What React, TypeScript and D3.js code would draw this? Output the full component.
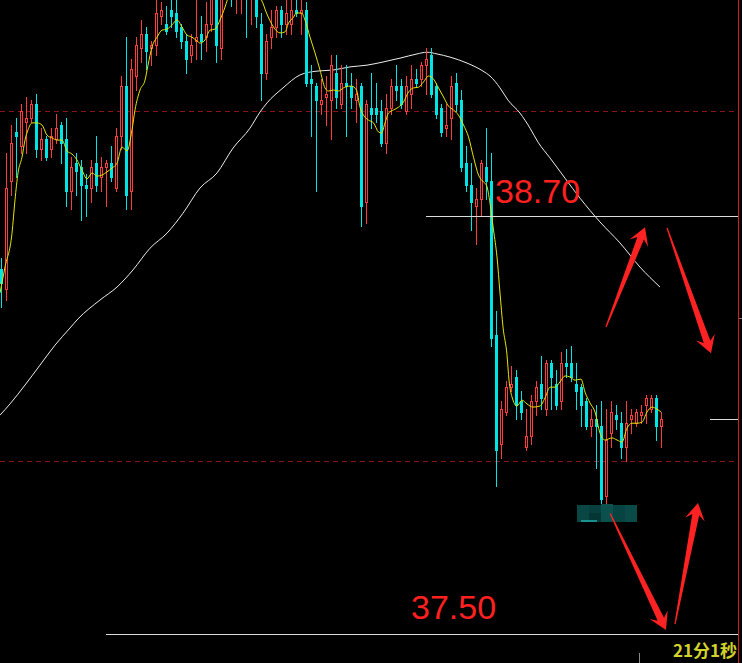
import React from 'react';
import * as d3 from 'd3';

// candle values, one per bar (price units)
const opens = [
  38.55, 38.49, 38.80, 38.94, 38.90, 38.97, 38.98, 39.02, 38.89, 38.92,
  38.89, 38.92, 38.96, 38.92, 38.77, 38.85, 38.84, 38.79, 38.78, 38.85,
  38.81, 38.84, 38.85, 38.78, 38.93, 39.07, 38.77, 39.10, 39.18, 39.22,
  39.18, 39.19, 39.27, 39.25, 39.29, 39.28, 39.24, 39.20, 39.16, 39.20,
  39.22, 39.21, 39.25, 39.34, 39.18, 39.36, 39.41, 39.34, 39.36, 39.41,
  39.33, 39.37, 39.25, 39.11, 39.21, 39.24, 39.29, 39.25, 39.25, 39.29,
  39.28, 39.29, 39.09, 39.07, 39.02, 39.04, 39.03, 39.11, 39.02, 39.08,
  39.07, 39.03, 39.07, 38.74, 39.01, 39.01, 39.00, 38.91, 39.01, 39.07,
  39.07, 39.00, 39.05, 39.09, 39.09, 39.13, 39.16, 39.07, 39.01, 38.95,
  38.98, 39.08, 39.03, 38.85, 38.79, 38.73, 38.75, 38.84, 38.80, 38.36,
  38.05, 38.14, 38.21, 38.24, 38.17, 38.04, 38.07, 38.17, 38.22, 38.15,
  38.28, 38.22, 38.17, 38.28, 38.28, 38.22, 38.21, 38.17, 38.10, 38.12,
  38.10, 37.90, 38.08, 38.13, 38.11, 38.04, 38.12, 38.11, 38.13, 38.16,
  38.15, 38.18, 38.10,
];
const highs = [
  38.58, 38.88, 38.96, 38.98, 39.02, 39.04, 39.03, 39.05, 38.95, 38.93,
  38.95, 38.99, 38.97, 38.98, 38.87, 38.88, 38.86, 38.82, 38.86, 38.93,
  38.87, 38.86, 38.90, 38.95, 39.10, 39.21, 39.15, 39.21, 39.26, 39.24,
  39.20, 39.33, 39.31, 39.30, 39.33, 39.32, 39.25, 39.22, 39.22, 39.32,
  39.27, 39.31, 39.37, 39.36, 39.37, 39.42, 39.44, 39.43, 39.45, 39.44,
  39.42, 39.40, 39.28, 39.22, 39.29, 39.30, 39.30, 39.32, 39.32, 39.32,
  39.32, 39.31, 39.13, 39.08, 39.09, 39.10, 39.16, 39.16, 39.13, 39.13,
  39.11, 39.09, 39.08, 39.03, 39.11, 39.08, 39.03, 39.05, 39.09, 39.13,
  39.09, 39.10, 39.13, 39.12, 39.14, 39.18, 39.18, 39.08, 39.02, 39.02,
  39.10, 39.11, 39.06, 38.90, 38.85, 38.78, 38.86, 38.95, 38.88, 38.43,
  38.17, 38.23, 38.27, 38.26, 38.20, 38.15, 38.19, 38.23, 38.30, 38.29,
  38.29, 38.26, 38.31, 38.32, 38.33, 38.28, 38.22, 38.18, 38.15, 38.16,
  38.17, 38.15, 38.17, 38.16, 38.14, 38.17, 38.15, 38.15, 38.16, 38.19,
  38.19, 38.19, 38.14,
];
const lows = [
  38.44, 38.46, 38.76, 38.81, 38.88, 38.88, 38.97, 38.87, 38.86, 38.86,
  38.87, 38.91, 38.85, 38.73, 38.72, 38.76, 38.69, 38.70, 38.74, 38.77,
  38.77, 38.73, 38.80, 38.77, 38.89, 38.72, 38.72, 39.06, 39.14, 39.12,
  39.13, 39.16, 39.25, 39.22, 39.24, 39.21, 39.18, 39.11, 39.14, 39.15,
  39.15, 39.17, 39.23, 39.14, 39.15, 39.33, 39.30, 39.28, 39.28, 39.21,
  39.25, 39.24, 39.03, 39.09, 39.18, 39.21, 39.21, 39.22, 39.22, 39.27,
  39.22, 39.07, 38.93, 38.77, 38.99, 38.96, 38.92, 39.01, 39.01, 38.93,
  39.01, 38.97, 38.67, 38.68, 38.95, 38.97, 38.90, 38.88, 38.99, 39.03,
  39.01, 38.99, 39.01, 39.07, 39.07, 39.05, 39.04, 38.98, 38.93, 38.93,
  38.92, 39.00, 38.83, 38.77, 38.66, 38.62, 38.70, 38.75, 38.33, 37.93,
  38.01, 38.13, 38.20, 38.12, 38.12, 38.03, 38.05, 38.13, 38.15, 38.13,
  38.15, 38.15, 38.15, 38.24, 38.23, 38.15, 38.10, 38.09, 38.07, 37.98,
  37.88, 37.87, 38.04, 38.09, 38.01, 38.00, 38.08, 38.10, 38.11, 38.11,
  38.14, 38.06, 38.04,
];
const closes = [
  38.51, 38.78, 38.91, 38.93, 39.00, 38.98, 39.02, 38.89, 38.92, 38.87,
  38.93, 38.95, 38.91, 38.77, 38.84, 38.83, 38.79, 38.78, 38.84, 38.79,
  38.84, 38.85, 38.81, 38.93, 39.07, 38.76, 39.12, 39.19, 39.22, 39.17,
  39.19, 39.28, 39.29, 39.23, 39.27, 39.23, 39.20, 39.15, 39.19, 39.21,
  39.20, 39.25, 39.33, 39.19, 39.35, 39.40, 39.34, 39.40, 39.41, 39.33,
  39.38, 39.27, 39.11, 39.20, 39.24, 39.29, 39.25, 39.28, 39.29, 39.28,
  39.29, 39.08, 39.08, 39.03, 39.03, 39.05, 39.13, 39.04, 39.08, 39.07,
  39.04, 39.05, 38.73, 39.02, 38.99, 38.99, 38.91, 39.01, 39.07, 39.06,
  39.02, 39.07, 39.09, 39.08, 39.13, 39.15, 39.05, 38.99, 38.94, 38.96,
  39.07, 39.02, 38.84, 38.79, 38.74, 38.75, 38.85, 38.80, 38.35, 38.03,
  38.15, 38.21, 38.22, 38.16, 38.14, 38.07, 38.17, 38.21, 38.18, 38.28,
  38.24, 38.16, 38.28, 38.27, 38.24, 38.20, 38.16, 38.10, 38.12, 38.10,
  37.89, 38.06, 38.14, 38.12, 38.04, 38.11, 38.13, 38.14, 38.14, 38.18,
  38.18, 38.10, 38.12,
];

// short moving average as [bar index, price]
const maFast: [number, number][] = [
  [-0.3, 38.48], [0.7, 38.554], [2.1, 38.651], [2.7, 38.746], [3.3, 38.823],
  [4.1, 38.868], [4.7, 38.917], [5.3, 38.946], [6.1, 38.966], [7.1, 38.966],
  [8.1, 38.96], [9.1, 38.931], [10.1, 38.923], [11.1, 38.917], [12.1, 38.917],
  [13.1, 38.886], [14.1, 38.877], [15.1, 38.86], [16.1, 38.831], [17.1, 38.806],
  [18.1, 38.823], [19.1, 38.814], [20.1, 38.817], [21.1, 38.826], [22.1, 38.837],
  [23.1, 38.851], [24.1, 38.897], [25.1, 38.886], [26.1, 38.946], [26.7, 39.003],
  [27.7, 39.06], [28.7, 39.088], [29.3, 39.131], [30.1, 39.183], [31.1, 39.211],
  [32.1, 39.231], [33.1, 39.234], [34.1, 39.246], [35.1, 39.26], [36.1, 39.24],
  [37.1, 39.217], [38.1, 39.211], [39.1, 39.2], [39.7, 39.194], [40.7, 39.203],
  [41.7, 39.231], [42.7, 39.234], [43.7, 39.26], [44.7, 39.297], [45.7, 39.34],
  [47, 39.37], [48, 39.37], [49, 39.38], [50, 39.35], [51, 39.33],
  [52, 39.317], [53, 39.28], [54.4, 39.24], [55.7, 39.223], [56.7, 39.226],
  [57.4, 39.251], [58.4, 39.268], [59, 39.28], [60, 39.28], [60.7, 39.26],
  [61.7, 39.211], [62.7, 39.166], [63.7, 39.117], [64.7, 39.066], [65.4, 39.057],
  [66.4, 39.06], [67.4, 39.057], [68.4, 39.066], [69.4, 39.071], [70, 39.071],
  [71, 39.06], [71.7, 39.011], [72.4, 38.988], [73.4, 38.974], [74.4, 38.966],
  [75.4, 38.94], [76, 38.937], [76.7, 38.966], [77.4, 38.994], [78.4, 39.003],
  [79.4, 39.011], [80.4, 39.026], [81.4, 39.054], [82.4, 39.066], [83.4, 39.068],
  [84.4, 39.083], [85.4, 39.1], [86.4, 39.091], [87.4, 39.066], [88.4, 39.04],
  [89.4, 39.014], [90.4, 39.003], [91.4, 38.988], [92.4, 38.96], [93.4, 38.926],
  [94.4, 38.868], [95.4, 38.817], [96.4, 38.797], [97, 38.788], [97.7, 38.737],
  [98.4, 38.66], [99.1, 38.583], [99.7, 38.48], [100.3, 38.383], [101.1, 38.303],
  [101.5, 38.231], [102.1, 38.183], [103.1, 38.157], [104.1, 38.174], [105.1, 38.163],
  [106.3, 38.154], [107.7, 38.157], [108.7, 38.18], [109.7, 38.211], [110.7, 38.211],
  [111.7, 38.226], [112.7, 38.243], [113.7, 38.24], [114.7, 38.231], [115.9, 38.234],
  [116.7, 38.197], [117.7, 38.166], [118.7, 38.14], [119.7, 38.08], [120.7, 38.06],
  [122.1, 38.066], [123.1, 38.06], [124.1, 38.054], [125.1, 38.094], [126.1, 38.108],
  [127.1, 38.108], [128.1, 38.111], [129.1, 38.14], [130.1, 38.154], [131.1, 38.148],
  [131.9, 38.14],
];

// long moving average as [bar index, price]
const maSlow: [number, number][] = [
  [-0.3, 38.131], [1.7, 38.163], [4.7, 38.217], [7.7, 38.274], [10.7, 38.331],
  [13.7, 38.38], [15.3, 38.406], [19.7, 38.46], [23.1, 38.497], [26.3, 38.546],
  [29.7, 38.608], [33.1, 38.651], [36.3, 38.708], [39.7, 38.78], [43.1, 38.823],
  [46.3, 38.894], [49.7, 38.951], [51.7, 38.997], [53.1, 39.023], [56.3, 39.066],
  [59.7, 39.103], [63.1, 39.114], [66.3, 39.117], [69.7, 39.126], [73.1, 39.131],
  [76.3, 39.14], [79.7, 39.151], [83.1, 39.163], [85.1, 39.168], [87.1, 39.163],
  [89.7, 39.154], [93.1, 39.137], [96.3, 39.114], [97.7, 39.1], [99.7, 39.066],
  [101.3, 39.031], [103.7, 38.994], [105.7, 38.951], [107.3, 38.911], [109.7, 38.866],
  [112.7, 38.808], [115.7, 38.751], [119.7, 38.683], [123.7, 38.623], [127.7, 38.554],
  [131.7, 38.497],
];

const gridPrices = [39.0, 38.0];
const levelPrices = [38.7, 37.5];
const levelLabels = ['38.70', '37.50'];
const clockLabel = '21分1秒';

// hand-drawn arrows, [bar index, price] from tail to tip
const arrowTails: [number, number][] = [[120.9, 38.383], [133.1, 38.666], [121.7, 37.851], [134.7, 37.534]];
const arrowTips: [number, number][] = [[128.7, 38.668], [141.9, 38.308], [132.9, 37.517], [139.3, 37.88]];

const W = 742;
const H = 663;
const UP = '#ff3c3c';
const DOWN = '#00e4e4';

function arrowPath(x1: number, y1: number, x2: number, y2: number) {
  const dx = x2 - x1;
  const dy = y2 - y1;
  const len = Math.hypot(dx, dy);
  const ux = dx / len;
  const uy = dy / len;
  const nx = -uy;
  const ny = ux;
  const headLen = 17;
  const headHalf = 10;
  const neck = 3.5;
  const tail = 0.6;
  const bx = x2 - ux * headLen * 0.7;
  const by = y2 - uy * headLen * 0.7;
  const hx = x2 - ux * headLen;
  const hy = y2 - uy * headLen;
  const pts = [
    [x1 + nx * tail, y1 + ny * tail],
    [bx + nx * neck, by + ny * neck],
    [hx + nx * headHalf, hy + ny * headHalf],
    [x2, y2],
    [hx - nx * headHalf, hy - ny * headHalf],
    [bx - nx * neck, by - ny * neck],
    [x1 - nx * tail, y1 - ny * tail],
  ];
  return 'M' + pts.map(p => `${p[0].toFixed(1)},${p[1].toFixed(1)}`).join('L') + 'Z';
}

const Candles: React.FC<{ x: d3.ScaleLinear<number, number>; py: (v: number) => number }> = ({ x, py }) => (
  <g shapeRendering="crispEdges">
    {opens.map((o, i) => {
      const c = closes[i];
      const cx = x(i);
      const top = Math.min(py(o), py(c));
      const bot = Math.max(py(o), py(c));
      const up = c >= o;
      const color = up ? UP : DOWN;
      return (
        <g key={i}>
          <line x1={cx} x2={cx} y1={py(highs[i])} y2={py(lows[i]) + 1} stroke={color} strokeWidth={1} />
          {up ? (
            bot - top >= 1 ? (
              <rect x={cx - 1} y={top + 0.5} width={2} height={bot - top} fill="#000" stroke={color} strokeWidth={1} />
            ) : (
              <line x1={cx - 1.5} x2={cx + 1.5} y1={top + 0.5} y2={top + 0.5} stroke={color} strokeWidth={1} />
            )
          ) : (
            <rect x={cx - 1.5} y={top} width={3} height={bot - top + 1} fill={color} />
          )}
        </g>
      );
    })}
  </g>
);

export default function App() {
  const x = d3.scaleLinear().domain([0, 132]).range([1.5, 661.5]);
  const y = d3.scaleLinear().domain([38, 39]).range([461, 111]);
  const py = (v: number) => Math.round(y(v));

  const line = d3
    .line<[number, number]>()
    .x(d => x(d[0]))
    .y(d => y(d[1]))
    .curve(d3.curveMonotoneX);

  const lastClose = closes[closes.length - 1];
  let lowIdx = 0;
  lows.forEach((v, i) => {
    if (v < lows[lowIdx]) lowIdx = i;
  });
  const lowX = Math.round(x(lowIdx));
  const lowY = py(lows[lowIdx]) - 2;
  const mosaic = [
    { dx: -30, dy: 0, w: 12, h: 17, c: '#0a4644' },
    { dx: -18, dy: 8, w: 12, h: 9, c: '#053636' },
    { dx: -18, dy: 0, w: 12, h: 8, c: '#08403f' },
    { dx: -6, dy: -1, w: 12, h: 18, c: '#0b504c' },
    { dx: 6, dy: 0, w: 12, h: 17, c: '#074441' },
    { dx: 18, dy: 0, w: 12, h: 17, c: '#0a4a47' },
  ];

  return (
    <div style={{ position: 'fixed', left: 0, top: 0, width: W, height: H, background: '#000' }}>
      <svg width={W} height={H} style={{ display: 'block', background: '#000' }}>
        <rect x={0} y={0} width={W} height={H} fill="#000" />

        {gridPrices.map(p => (
          <line
            key={p}
            x1={0}
            x2={737}
            y1={py(p) + 0.5}
            y2={py(p) + 0.5}
            stroke="#8c1414"
            strokeWidth={1}
            strokeDasharray="5,4"
            shapeRendering="crispEdges"
          />
        ))}

        <path d={line(maSlow) || ''} fill="none" stroke="#ededed" strokeWidth={1} />

        <Candles x={x} py={py} />

        <path d={line(maFast) || ''} fill="none" stroke="#e6e600" strokeWidth={1} />

        {/* key levels */}
        <line x1={426} x2={738} y1={py(levelPrices[0]) + 0.5} y2={py(levelPrices[0]) + 0.5} stroke="#dcdcdc" strokeWidth={1} shapeRendering="crispEdges" />
        <line x1={106} x2={738} y1={py(levelPrices[1]) - 1.5} y2={py(levelPrices[1]) - 1.5} stroke="#dcdcdc" strokeWidth={1} shapeRendering="crispEdges" />
        <line x1={710} x2={738} y1={py(lastClose) + 0.5} y2={py(lastClose) + 0.5} stroke="#dcdcdc" strokeWidth={1} shapeRendering="crispEdges" />

        <text x={495} y={py(levelPrices[0]) - 13} fill="#ff2020" fontSize={34} fontFamily="'Liberation Sans', Arial, sans-serif">
          {levelLabels[0]}
        </text>
        <text x={411} y={py(levelPrices[1]) - 17} fill="#ff2020" fontSize={34} fontFamily="'Liberation Sans', Arial, sans-serif">
          {levelLabels[1]}
        </text>

        {/* blurred low-price tag */}
        <g shapeRendering="crispEdges">
          {mosaic.map((m, i) => (
            <rect key={i} x={lowX + m.dx} y={lowY + m.dy} width={m.w} height={m.h} fill={m.c} />
          ))}
          <rect x={lowX - 26} y={lowY + 15} width={16} height={2} fill="#1fb5b5" opacity={0.7} />
        </g>

        {arrowTails.map((t, i) => (
          <path
            key={i}
            d={arrowPath(x(t[0]), y(t[1]), x(arrowTips[i][0]), y(arrowTips[i][1]))}
            fill="#ff2222"
          />
        ))}

        {/* right axis border */}
        <line x1={738.5} x2={738.5} y1={0} y2={H} stroke="#cc1f1f" strokeWidth={1} shapeRendering="crispEdges" />
        <line x1={739} x2={742} y1={318.5} y2={318.5} stroke="#777" strokeWidth={1} shapeRendering="crispEdges" />

        <line x1={639.5} x2={639.5} y1={653} y2={H} stroke="#8a8a8a" strokeWidth={1} shapeRendering="crispEdges" />
        <text
          x={737}
          y={657}
          textAnchor="end"
          fill="#d2d22c"
          fontSize={17}
          fontWeight="bold"
          fontFamily="'Noto Sans CJK SC', 'Noto Sans', sans-serif"
        >
          {clockLabel}
        </text>
      </svg>
    </div>
  );
}
